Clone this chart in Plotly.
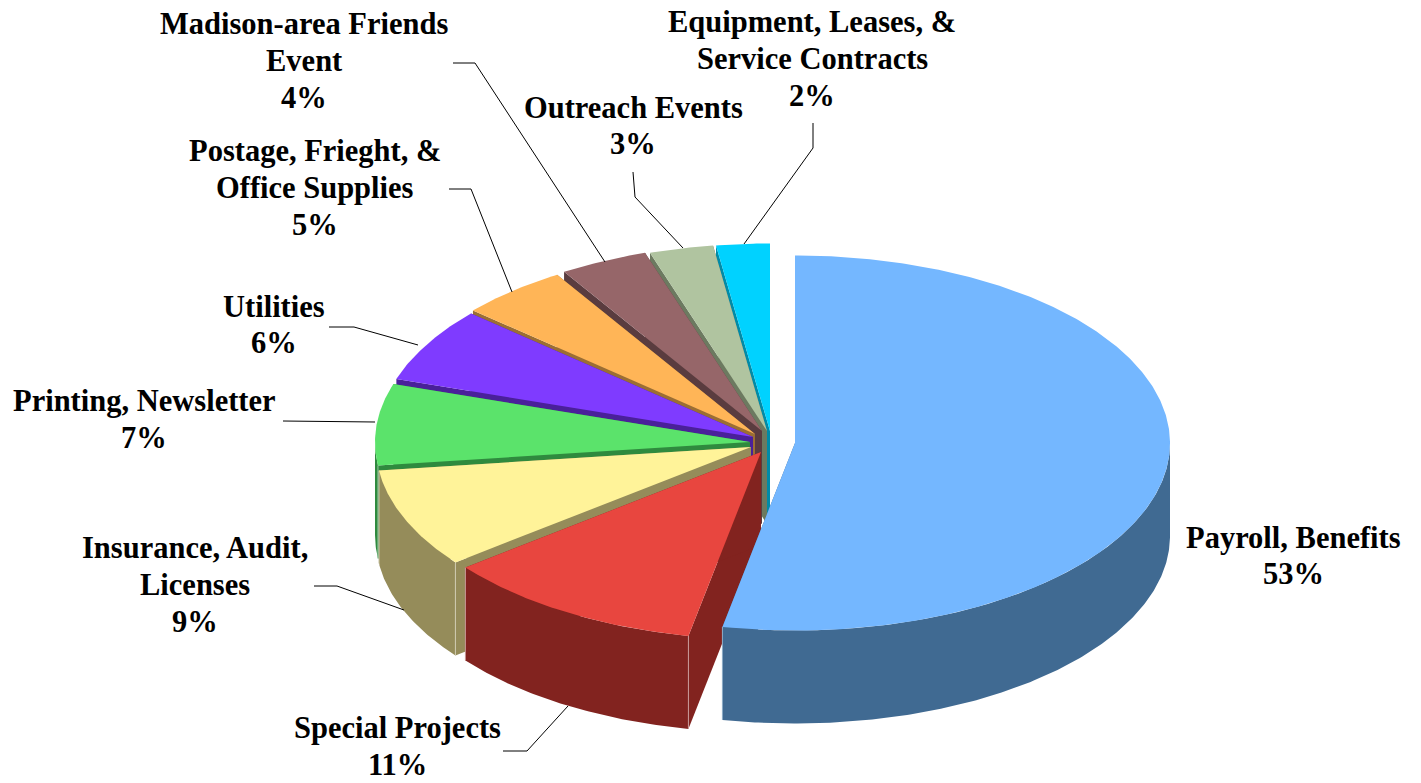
import math
import plotly.graph_objects as go

# Data, clockwise from 12 o'clock (shares; labels show them rounded)
categories = ["Payroll, Benefits", "Special Projects", "Insurance, Audit,<br>Licenses",
              "Printing, Newsletter", "Utilities", "Postage, Frieght, &<br>Office Supplies",
              "Madison-area Friends<br>Event", "Outreach Events",
              "Equipment, Leases, &<br>Service Contracts"]
values = [53.1, 11.35, 8.55, 7.0, 6.45, 4.7, 3.8, 2.75, 2.3]

# Style
top_colors = ["#74B7FF", "#E8463F", "#FFF399", "#5BE36B", "#7F3BFF", "#FFB557", "#966669", "#B0C4A0", "#00D2FF"]
side_colors = ["#406A92", "#82231F", "#958C5A", "#2F8A3E", "#4A209A", "#9B6E34", "#5A3C3F", "#6C7A60", "#008BA8"]
edge_colors = ["#8FAEC8", "#C99A98", "#CFCBB0", "#8FC49A", "#9A80D0", "#D0B080", "#A89090", "#B0BCA8", "#70C8D8"]
apex_x = [795, 761, 751, 750, 753, 755, 762, 767, 770]
apex_y = [443, 452, 447, 442, 437, 434, 431, 431, 431]
label_x = [1293, 397, 195, 144, 274, 315, 304, 633, 812]
label_y = [556, 746.5, 585, 419.5, 325, 188, 61, 126, 59]
leaders = [
    "M453,63 L475,63 L605,262", "M449,189 L471,189 L512,292", "M633,172 L635,197 L683,248",
    "M813,123 L813,148 L744,244", "M329,327 L354,327 L418,345", "M283,421 L375,422",
    "M314,586 L337,586 L404,610", "M503,751 L527,751 L568,706",
]
RX, RY, DEPTH = 375, 187.5, 93
LINE_STEP = 36.7
FONT = dict(family="Liberation Serif", size=30.5, color="#000000")

total = sum(values)
bounds = [0.0]
for v in values:
    bounds.append(bounds[-1] + v / total * 360.0)


def rim(i, a):
    t = math.radians(a)
    return apex_x[i] + RX * math.sin(t), apex_y[i] - RY * math.cos(t)


def arc(i, a0, a1):
    n = max(2, int(abs(a1 - a0) * 2))
    return [rim(i, a0 + (a1 - a0) * k / n) for k in range(n + 1)]


def poly(pts, color, name):
    return go.Scatter(x=[p[0] for p in pts] + [pts[0][0]], y=[p[1] for p in pts] + [pts[0][1]],
                      mode="lines", line=dict(width=0, color=color), fill="toself",
                      fillcolor=color, hoverinfo="text", text=name, showlegend=False)


fig = go.Figure()
for i in list(range(len(values) - 1, -1, -1)):
    a0, a1 = bounds[i], bounds[i + 1]
    apex = (apex_x[i], apex_y[i])
    name = categories[i].replace("<br>", " ") + f": {values[i]:.0f}%"
    down = lambda p: (p[0], p[1] + DEPTH)
    # radial faces
    for a in (a0, a1):
        p = rim(i, a)
        fig.add_trace(poly([apex, p, down(p), down(apex)], side_colors[i], name))
    # outer wall: the part of the arc that faces the viewer
    w0, w1 = max(a0, 90.0), min(a1, 270.0)
    if w1 > w0:
        pts = arc(i, w0, w1)
        fig.add_trace(poly(pts + [down(p) for p in reversed(pts)], side_colors[i], name))
        for a in (a0, a1):
            if 90.0 < a < 270.0:
                p = rim(i, a)
                d = down(p)
                fig.add_trace(go.Scatter(x=[p[0], d[0]], y=[p[1], d[1]], mode="lines",
                                         line=dict(width=1, color=edge_colors[i]),
                                         hoverinfo="skip", showlegend=False))
    # top
    fig.add_trace(poly([apex] + arc(i, a0, a1), top_colors[i], name))

annotations = []
for i in range(len(values)):
    lines = categories[i].split("<br>") + [f"{values[i]:.0f}%"]
    for k, line in enumerate(lines):
        annotations.append(dict(
            x=label_x[i], y=label_y[i] + (k - (len(lines) - 1) / 2) * LINE_STEP,
            xref="x", yref="y", showarrow=False, align="center",
            text=f"<b>{line}</b>", font=FONT, xanchor="center", yanchor="middle"))
shapes = [dict(type="path", path=p, xref="x", yref="y", line=dict(color="#000000", width=1), layer="above")
          for p in leaders]

fig.update_layout(
    width=1421, height=783, margin=dict(l=0, r=0, t=0, b=0),
    paper_bgcolor="#FFFFFF", plot_bgcolor="#FFFFFF",
    xaxis=dict(range=[0, 1421], visible=False, fixedrange=True),
    yaxis=dict(range=[783, 0], visible=False, fixedrange=True),
    annotations=annotations, shapes=shapes, showlegend=False,
)
fig.write_html("out.html", config=dict(displayModeBar=False),
               post_script="document.body.style.margin='0';document.body.style.overflow='hidden';")
